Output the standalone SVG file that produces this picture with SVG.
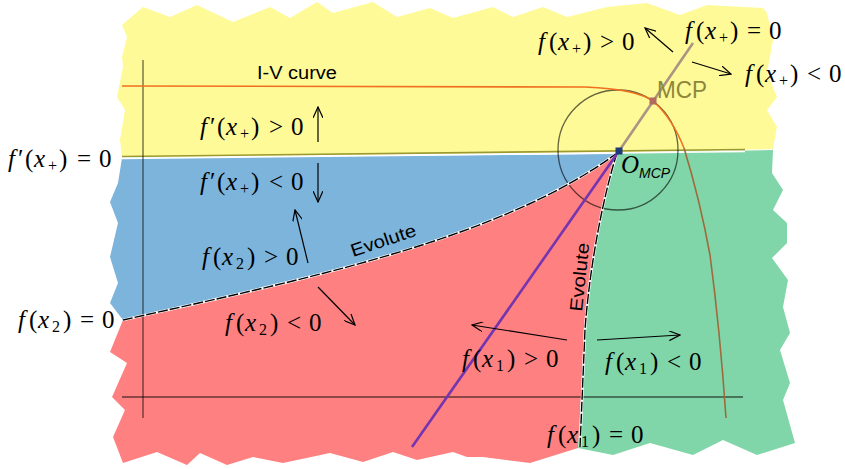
<svg xmlns="http://www.w3.org/2000/svg" width="845" height="469" viewBox="0 0 845 469">
<defs>
<style>
.m{font-family:"Liberation Serif","DejaVu Serif",serif;font-size:25px;fill:#000}
.i{font-style:italic}
.s{font-size:16px}
.lbl{font-family:"Liberation Sans",Arial,sans-serif;font-size:18px;fill:#000}
.ax{stroke:#000;stroke-opacity:0.6;stroke-width:1.3;fill:none}
.arr{stroke:#000;stroke-width:1.2;fill:none;marker-end:url(#ah)}
.evw{stroke:#fff;stroke-width:2.6;fill:none}
.evb{stroke:#000;stroke-width:1.4;fill:none;stroke-dasharray:10 2}
</style>
<marker id="ah" viewBox="0 0 12 10" refX="11" refY="5" markerWidth="12" markerHeight="10" markerUnits="userSpaceOnUse" orient="auto">
<path d="M0,0 L11,5 L0,10" fill="none" stroke="#000" stroke-width="1.2"/>
</marker>
</defs>
<rect width="845" height="469" fill="#fff"/>
<g id="regions">
<path id="yellow" fill="#FFFA98" d="M122,25 L143,7 L170,17 L197,5 L233,22 L270,7 L290,18 L317,2 L333,13 L373,2 L397,17 L430,8 L453,18 L493,7 L513,17 L543,7 L567,17 L607,7 L647,3 L680,15 L707,5 L763,8 L767,13 L773,40 L767,73 L777,97 L767,110 L777,127 L773,149 L617,152 L122,157 L120,140 L125,110 L117,97 L123,67 L122,57 L127,37 Z"/>
<path id="blue" fill="#7DB4DC" d="M122,158 L617,154 C500,240 300,280 123,320 L110,303 L118,283 L110,257 L118,223 L110,202 L118,183 Z"/>
<path id="red" fill="#FF8080" d="M617,153 C500,240 300,280 123,320 L110,352 L127,363 L112,397 L125,410 L113,437 L123,463 L157,452 L187,465 L200,453 L227,465 L253,457 L283,463 L330,453 L363,462 L393,452 L417,460 L453,452 L467,457 L483,457 L530,463 L578,448 L585,330 C590,260 605,190 617,153 Z"/>
<path id="green" fill="#80D6A8" d="M617,153 L773,150 L772,173 L783,190 L773,210 L787,223 L787,243 L772,258 L788,280 L783,307 L790,333 L780,350 L790,383 L783,400 L795,443 L757,455 L723,440 L693,455 L650,443 L613,455 L578,448 L585,330 C590,260 605,190 617,153 Z"/>
</g>
<g id="connectors">
<line x1="122" y1="158.5" x2="745" y2="151.5" stroke="#fff" stroke-width="1.5"/>
<line x1="122" y1="156.5" x2="745" y2="149.5" stroke="#9A9A30" stroke-width="1.6"/>
<line class="ax" x1="143" y1="60" x2="143" y2="418"/>
<line class="ax" x1="122" y1="397" x2="743" y2="397"/>
<circle class="ax" cx="618" cy="150" r="60"/>
<path d="M122,86 L585,87 Q638,89 654,102 Q672,118 684,148" fill="none" stroke="#F07020" stroke-width="1.6"/>
<path d="M684,148 Q700,200 710,255 Q720,330 726,418" fill="none" stroke="#9E6A3C" stroke-width="1.6"/>
<path class="evw" d="M123,320 C300,280 500,240 617,153"/>
<path class="evb" d="M123,320 C300,280 500,240 617,153"/>
<path class="evw" d="M617,153 C605,190 590,260 585,330 L580,447"/>
<path class="evb" d="M617,153 C605,190 590,260 585,330 L580,447"/>
<line x1="619" y1="151" x2="693" y2="43" stroke="#AC9484" stroke-width="2.6"/>
<line x1="619" y1="151" x2="412" y2="447" stroke="#7535B0" stroke-width="2.6"/>
<line class="arr" x1="673" y1="52" x2="645" y2="28"/>
<line class="arr" x1="692" y1="62" x2="731" y2="74"/>
<line class="arr" x1="318" y1="142" x2="318" y2="107"/>
<line class="arr" x1="318" y1="163" x2="318" y2="202"/>
<line class="arr" x1="308" y1="263" x2="295" y2="210"/>
<line class="arr" x1="318" y1="287" x2="355" y2="325"/>
<line class="arr" x1="567" y1="340" x2="472" y2="325"/>
<line class="arr" x1="597" y1="340" x2="680" y2="335"/>
</g>
<g id="mcp-point"><rect x="649.5" y="97.5" width="7" height="7" fill="#B06A5E"/></g>
<g id="omcp-point"><rect x="615.5" y="147.5" width="7" height="7" fill="#1F3A7A"/></g>
<g id="labels">
<text class="lbl" x="257" y="79" textLength="80" lengthAdjust="spacingAndGlyphs">I-V curve</text>
<text x="657" y="98" font-family="Liberation Sans,Arial,sans-serif" font-size="23" fill="#8C873A" textLength="50" lengthAdjust="spacingAndGlyphs">MCP</text>
<text class="lbl" transform="translate(353,257) rotate(-18.5)" textLength="68" lengthAdjust="spacingAndGlyphs">Evolute</text>
<text class="lbl" transform="translate(582,312) rotate(-84)" textLength="69" lengthAdjust="spacingAndGlyphs">Evolute</text>
<text class="m" y="173"><tspan class="i" x="621">O</tspan><tspan class="i" x="639" y="178" font-family="Liberation Sans,Arial,sans-serif" font-size="14">MCP</tspan></text>

<text class="m" y="39"><tspan class="i" x="685">f</tspan><tspan x="696">(</tspan><tspan class="i" x="705">x</tspan><tspan class="s" x="719" y="43">+</tspan><tspan x="730" y="39">)</tspan><tspan x="747">=</tspan><tspan x="769">0</tspan></text>
<text class="m" y="50"><tspan class="i" x="538">f</tspan><tspan x="549">(</tspan><tspan class="i" x="558">x</tspan><tspan class="s" x="572" y="54">+</tspan><tspan x="583" y="50">)</tspan><tspan x="600">&gt;</tspan><tspan x="622">0</tspan></text>
<text class="m" y="82"><tspan class="i" x="745">f</tspan><tspan x="756">(</tspan><tspan class="i" x="765">x</tspan><tspan class="s" x="779" y="86">+</tspan><tspan x="790" y="82">)</tspan><tspan x="807">&lt;</tspan><tspan x="829">0</tspan></text>
<text class="m" y="265"><tspan class="i" x="202">f</tspan><tspan x="213">(</tspan><tspan class="i" x="222">x</tspan><tspan class="s" x="236" y="269">2</tspan><tspan x="247" y="265">)</tspan><tspan x="264">&gt;</tspan><tspan x="286">0</tspan></text>
<text class="m" y="328"><tspan class="i" x="18">f</tspan><tspan x="29">(</tspan><tspan class="i" x="38">x</tspan><tspan class="s" x="52" y="332">2</tspan><tspan x="63" y="328">)</tspan><tspan x="80">=</tspan><tspan x="102">0</tspan></text>
<text class="m" y="331"><tspan class="i" x="225">f</tspan><tspan x="236">(</tspan><tspan class="i" x="245">x</tspan><tspan class="s" x="259" y="335">2</tspan><tspan x="270" y="331">)</tspan><tspan x="287">&lt;</tspan><tspan x="309">0</tspan></text>
<text class="m" y="367"><tspan class="i" x="462">f</tspan><tspan x="473">(</tspan><tspan class="i" x="482">x</tspan><tspan class="s" x="496" y="371">1</tspan><tspan x="507" y="367">)</tspan><tspan x="524">&gt;</tspan><tspan x="546">0</tspan></text>
<text class="m" y="370"><tspan class="i" x="605">f</tspan><tspan x="616">(</tspan><tspan class="i" x="625">x</tspan><tspan class="s" x="639" y="374">1</tspan><tspan x="650" y="370">)</tspan><tspan x="667">&lt;</tspan><tspan x="689">0</tspan></text>
<text class="m" y="443"><tspan class="i" x="547">f</tspan><tspan x="558">(</tspan><tspan class="i" x="567">x</tspan><tspan class="s" x="581" y="447">1</tspan><tspan x="592" y="443">)</tspan><tspan x="609">=</tspan><tspan x="631">0</tspan></text>
<text class="m" y="135"><tspan class="i" x="200">f</tspan><tspan x="210">′</tspan><tspan x="217">(</tspan><tspan class="i" x="226">x</tspan><tspan class="s" x="240" y="139">+</tspan><tspan x="251" y="135">)</tspan><tspan x="269">&gt;</tspan><tspan x="291">0</tspan></text>
<text class="m" y="167"><tspan class="i" x="8">f</tspan><tspan x="18">′</tspan><tspan x="25">(</tspan><tspan class="i" x="34">x</tspan><tspan class="s" x="48" y="171">+</tspan><tspan x="59" y="167">)</tspan><tspan x="77">=</tspan><tspan x="99">0</tspan></text>
<text class="m" y="190"><tspan class="i" x="200">f</tspan><tspan x="210">′</tspan><tspan x="217">(</tspan><tspan class="i" x="226">x</tspan><tspan class="s" x="240" y="194">+</tspan><tspan x="251" y="190">)</tspan><tspan x="269">&lt;</tspan><tspan x="291">0</tspan></text>
</g>
</svg>
